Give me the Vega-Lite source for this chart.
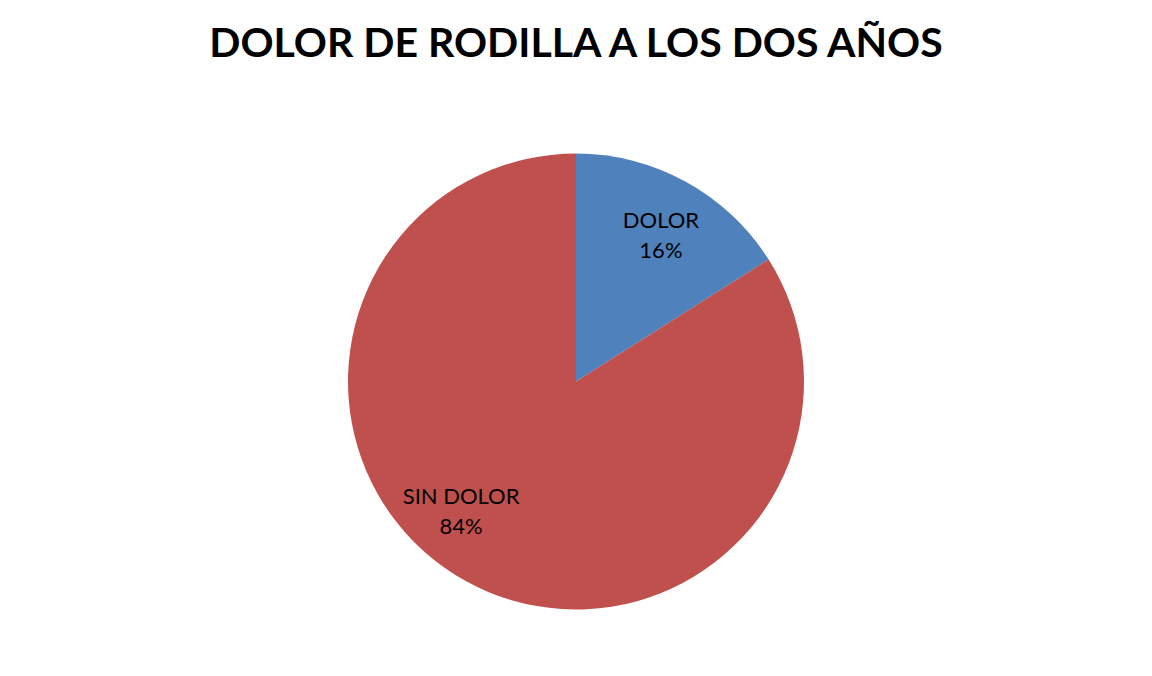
{
  "$schema": "https://vega.github.io/schema/vega-lite/v6.json",
  "width": 1152,
  "height": 676,
  "autosize": {"type": "fit", "contains": "padding"},
  "padding": {"top": 24, "left": 0, "right": 0, "bottom": 0},
  "background": "white",
  "title": {
    "text": "DOLOR DE RODILLA A LOS DOS AÑOS",
    "font": "Lato",
    "fontSize": 41,
    "fontWeight": "bold",
    "color": "#000000",
    "anchor": "middle",
    "offset": 21
  },
  "config": {"view": {"stroke": null}},
  "data": {
    "values": [
      {"categoria": "DOLOR", "porcentaje": 16, "etiqueta": "16%", "orden": 1},
      {"categoria": "SIN DOLOR", "porcentaje": 84, "etiqueta": "84%", "orden": 2}
    ]
  },
  "encoding": {
    "theta": {"field": "porcentaje", "type": "quantitative", "stack": true},
    "order": {"field": "orden", "type": "quantitative"}
  },
  "layer": [
    {
      "mark": {"type": "arc", "radius": 228},
      "encoding": {
        "color": {
          "field": "categoria",
          "type": "nominal",
          "scale": {"domain": ["DOLOR", "SIN DOLOR"], "range": ["#4F81BD", "#C0504D"]},
          "legend": null
        }
      }
    },
    {
      "mark": {"type": "text", "radius": 168, "dx": 4, "dy": -13, "font": "Lato", "fontSize": 22, "color": "#000000", "lineHeight": 30, "baseline": "middle"},
      "encoding": {
        "text": {"condition": {"test": "datum.categoria == 'DOLOR'", "value": ["DOLOR", "16%"]}, "value": ""}
      }
    },
    {
      "mark": {"type": "text", "radius": 170, "dx": -33, "dy": -33, "font": "Lato", "fontSize": 22, "color": "#000000", "lineHeight": 30, "baseline": "middle"},
      "encoding": {
        "text": {"condition": {"test": "datum.categoria == 'SIN DOLOR'", "value": ["SIN DOLOR", "84%"]}, "value": ""}
      }
    }
  ]
}
